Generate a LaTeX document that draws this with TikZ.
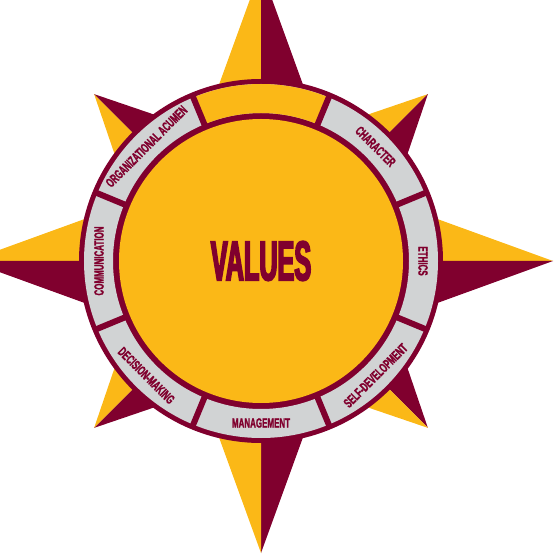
\documentclass[tikz,border=0pt]{standalone}
\usepackage{fontspec}
\usepackage{tikz}

\newfontfamily\ringfont[FakeStretch=0.6,FakeBold=1.5]{Liberation Sans}
\newfontfamily\titlefont[FakeStretch=0.45,FakeBold=3]{Liberation Sans}

\definecolor{compassgold}{HTML}{FBB817}
\definecolor{compassmaroon}{HTML}{80002E}
\definecolor{ringgrey}{HTML}{D1D3D4}

\tikzset{
    ringlabel/.style={text=compassmaroon, inner sep=0pt,
        font=\ringfont\bfseries\fontsize{13.3}{14}\selectfont},
    titlelabel/.style={text=compassmaroon, inner sep=0pt,
        font=\titlefont\bfseries\fontsize{56}{60}\selectfont},
    divider/.style={compassmaroon, line width=6}
}

\begin{document}
\begin{tikzpicture}[x=1pt,y=1pt]

    \useasboundingbox (-261,261) rectangle (293,-295);

    % diagonal points of the star
    \fill[compassgold]   (0,0) -- (45:236) -- (90:110) -- cycle;
    \fill[compassmaroon] (0,0) -- (45:236) -- (0:110) -- cycle;
    \fill[compassmaroon] (0,0) -- (-45:236) -- (0:110) -- cycle;
    \fill[compassgold]   (0,0) -- (-45:236) -- (-90:110) -- cycle;
    \fill[compassmaroon] (0,0) -- (-135:236) -- (-90:110) -- cycle;
    \fill[compassgold]   (0,0) -- (-135:236) -- (180:110) -- cycle;
    \fill[compassgold]   (0,0) -- (135:236) -- (180:110) -- cycle;
    \fill[compassmaroon] (0,0) -- (135:236) -- (90:110) -- cycle;

    % main points of the star
    \fill[compassgold]   (0,0) -- (90:292) -- (135:110) -- cycle;
    \fill[compassmaroon] (0,0) -- (90:292) -- (45:110) -- cycle;
    \fill[compassgold]   (0,0) -- (0:292) -- (45:110) -- cycle;
    \fill[compassmaroon] (0,0) -- (0:292) -- (-45:110) -- cycle;
    \fill[compassmaroon] (0,0) -- (-90:292) -- (-45:110) -- cycle;
    \fill[compassgold]   (0,0) -- (-90:292) -- (-135:110) -- cycle;
    \fill[compassgold]   (0,0) -- (180:292) -- (135:110) -- cycle;
    \fill[compassmaroon] (0,0) -- (180:292) -- (-135:110) -- cycle;

    % ring
    \fill[compassmaroon] (0,0) circle (182);
    \fill[ringgrey, even odd rule] (0,0) circle (177) circle (148);
    \fill[compassgold] (67.5:177) arc[start angle=67.5, end angle=112.5, radius=177]
        -- (112.5:148) arc[start angle=112.5, end angle=67.5, radius=148] -- cycle;

    \draw[divider] (22.5:145) -- (22.5:180);
    \draw[divider] (67.5:145) -- (67.5:180);
    \draw[divider] (112.5:145) -- (112.5:180);
    \draw[divider] (157.5:145) -- (157.5:180);
    \draw[divider] (202.5:145) -- (202.5:180);
    \draw[divider] (247.5:145) -- (247.5:180);
    \draw[divider] (292.5:145) -- (292.5:180);
    \draw[divider] (337.5:145) -- (337.5:180);

    \fill[compassgold] (0,0) circle (142);

    % labels
    \node[ringlabel, rotate=45]  (acumen)        at (135:162)  {ORGANIZATIONAL ACUMEN};
    \node[ringlabel, rotate=-45] (character)     at (45:162)   {CHARACTER};
    \node[ringlabel, rotate=-90] (ethics)        at (0:162)    {ETHICS};
    \node[ringlabel, rotate=45]  (selfdev)       at (-45:162)  {SELF-DEVELOPMENT};
    \node[ringlabel]             (management)    at (-90:162)  {MANAGEMENT};
    \node[ringlabel, rotate=-45] (decision)      at (-135:162) {DECISION-MAKING};
    \node[ringlabel, rotate=90]  (communication) at (180:162)  {COMMUNICATION};

    \node[titlelabel] (values) at (0,0) {VALUES};

\end{tikzpicture}
\end{document}
